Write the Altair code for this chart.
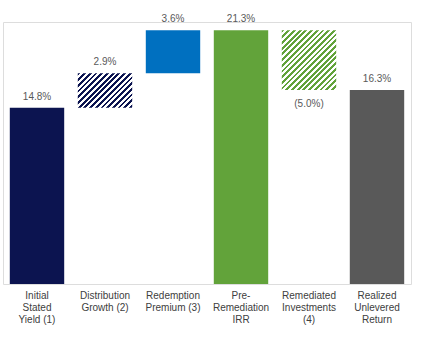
import altair as alt
import pandas as pd

# ---- data ----
categories = [
    "Initial|Stated|Yield (1)",
    "Distribution|Growth (2)",
    "Redemption|Premium (3)",
    "Pre-|Remediation|IRR",
    "Remediated|Investments|(4)",
    "Realized|Unlevered|Return",
]
values = [14.8, 2.9, 3.6, 21.3, -5.0, 16.3]
kinds = ["total", "delta", "delta", "total", "delta", "total"]

# ---- derived waterfall table ----
rows = []
running = 0.0
for cat, v, k in zip(categories, values, kinds):
    if k == "total":
        start, end = 0.0, v
    else:
        start, end = running, running + v
    running = end
    label = f"{v:.1f}%" if v >= 0 else f"({abs(v):.1f}%)"
    rows.append({
        "cat": cat, "value": v, "start": start, "end": end,
        "label": label,
        "label_y": max(start, end) if v >= 0 else min(start, end),
    })
df = pd.DataFrame(rows)

# ---- styling ----
W, H = 408, 262
YMAX = 22.0
solid_colors = {
    categories[0]: "#0C1450",
    categories[2]: "#0070C0",
    categories[3]: "#62A33A",
    categories[5]: "#595959",
}
hatch_colors = {
    categories[1]: "#0C1450",
    categories[4]: "#62A33A",
}
FONT = "Liberation Sans"
bar_w = W / 6 * 0.8
px_per_unit = H / YMAX
period = 5.7


def hatch_gradient(color, value):
    bw = bar_w
    bh = abs(value) * px_per_unit
    k = (bw + bh) / (bw * bw + bh * bh)
    n = (bw + bh) / period
    stops = []
    i = 0
    while i / n < 1:
        a = i / n
        b = min((i + 0.5) / n, 1.0)
        c = min((i + 1) / n, 1.0)
        stops += [
            alt.GradientStop(offset=a, color=color),
            alt.GradientStop(offset=b, color=color),
            alt.GradientStop(offset=b, color="#FFFFFF"),
            alt.GradientStop(offset=c, color="#FFFFFF"),
        ]
        i += 1
    return alt.LinearGradient(
        gradient="linear", stops=stops,
        x1=0, y1=0, x2=bw * k, y2=bh * k,
    )


x_enc = alt.X(
    "cat:N", sort=categories, title=None,
    scale=alt.Scale(paddingInner=0.2, paddingOuter=0.1),
    axis=alt.Axis(
        labelExpr="split(datum.label, '|')", labelAngle=0,
        labelFont=FONT, labelFontSize=10, labelLineHeight=12,
        labelColor="#404040", labelPadding=6, domain=False, ticks=False,
        grid=False, labelLimit=200,
    ),
)
y_scale = alt.Scale(domain=[0, YMAX], nice=False, zero=True)

base = alt.Chart(df).encode(x=x_enc)

solid = base.transform_filter(
    alt.FieldOneOfPredicate(field="cat", oneOf=list(solid_colors))
).mark_bar().encode(
    y=alt.Y("start:Q", scale=y_scale, axis=None),
    y2="end:Q",
    color=alt.Color(
        "cat:N",
        scale=alt.Scale(domain=list(solid_colors), range=list(solid_colors.values())),
        legend=None,
    ),
)

layers = [solid]
for cat, col in hatch_colors.items():
    v = values[categories.index(cat)]
    layers.append(
        base.transform_filter(alt.datum.cat == cat)
        .mark_bar(fill=hatch_gradient(col, v))
        .encode(y=alt.Y("start:Q", scale=y_scale, axis=None), y2="end:Q")
    )

pos_text = base.transform_filter("datum.value >= 0").mark_text(
    baseline="alphabetic", dy=-8, font=FONT, fontSize=10, color="#595959"
).encode(y=alt.Y("label_y:Q", scale=y_scale, axis=None), text="label:N")

neg_text = base.transform_filter("datum.value < 0").mark_text(
    baseline="alphabetic", dy=17, font=FONT, fontSize=10, color="#595959"
).encode(y=alt.Y("label_y:Q", scale=y_scale, axis=None), text="label:N")

chart = alt.layer(*layers, pos_text, neg_text).properties(
    width=W, height=H,
    autosize=alt.AutoSizeParams(type="none"),
    padding={"left": 3, "top": 22, "right": 19, "bottom": 60},
).configure_view(stroke=None).configure(background="white")

chart.save("out.html", embed_options={"renderer": "svg", "actions": False})
